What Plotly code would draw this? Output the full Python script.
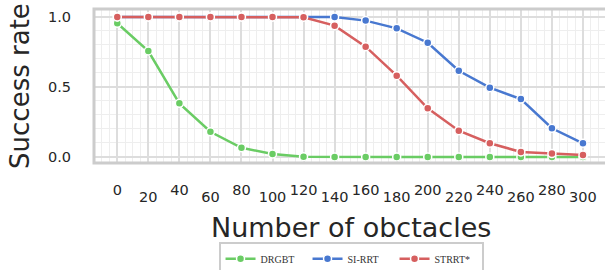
import plotly.graph_objects as go

obstacles = [0, 20, 40, 60, 80, 100, 120, 140, 160, 180, 200, 220, 240, 260, 280, 300]
drgbt = [0.955, 0.757, 0.383, 0.18, 0.066, 0.021, 0.002, 0.0, 0.0, 0.0, 0.0, 0.0, 0.0, 0.0, 0.0, 0.0]
si_rrt = [1.0, 1.0, 1.0, 1.0, 1.0, 1.0, 1.0, 0.999, 0.974, 0.919, 0.816, 0.616, 0.495, 0.414, 0.205, 0.098]
strrt = [1.0, 1.0, 1.0, 1.0, 1.0, 1.0, 0.998, 0.938, 0.788, 0.581, 0.348, 0.188, 0.098, 0.036, 0.024, 0.014]

series_names = ["DRGBT", "SI-RRT", "STRRT*"]
series_values = [drgbt, si_rrt, strrt]
series_colors = ["#6acc64", "#4878d0", "#d65f5f"]

upper_ticks = [v for i, v in enumerate(obstacles) if i % 2 == 0]
lower_ticks = [v for i, v in enumerate(obstacles) if i % 2 == 1]
y_ticks = [0.0, 0.5, 1.0]
y_ticktext = ["0.0", "0.5", "1.0"]

TXT = "#262626"
fig = go.Figure()
for name, vals, col in zip(series_names, series_values, series_colors):
    fig.add_trace(go.Scatter(
        x=obstacles, y=vals, name=name, mode="lines+markers",
        line=dict(color=col, width=2.5),
        marker=dict(color=col, size=8, line=dict(color="white", width=1.5)),
    ))

xr = [-15, 314.2]
fig.update_layout(
    width=605, height=270,
    margin=dict(l=94, r=0, t=9, b=107, autoexpand=False),
    plot_bgcolor="white", paper_bgcolor="white",
    font=dict(family="DejaVu Sans", color=TXT, size=14),
    xaxis=dict(
        range=xr, tickmode="array", tickvals=obstacles,
        ticktext=[str(v) if i % 2 == 0 else "" for i, v in enumerate(obstacles)],
        showgrid=True, gridcolor="#dddddd", gridwidth=2,
        minor=dict(tickmode="linear", tick0=0, dtick=5, showgrid=True, gridcolor="#eeeeee", gridwidth=1),
        zeroline=False, showline=False, ticks="", ticklabelstandoff=16, automargin=False,
        tickfont=dict(size=14.5, color=TXT),
    ),
    xaxis2=dict(
        range=xr, overlaying="x", anchor="y", side="bottom",
        tickmode="array", tickvals=lower_ticks, ticktext=[str(v) for v in lower_ticks],
        showgrid=False, zeroline=False, showline=False, ticks="", ticklabelstandoff=23, automargin=False,
        tickfont=dict(size=14.5, color=TXT),
    ),
    yaxis=dict(
        range=[-0.043, 1.057], tickmode="array", tickvals=y_ticks, ticktext=y_ticktext,
        showgrid=True, gridcolor="#dddddd", gridwidth=2,
        minor=dict(tickmode="linear", tick0=0, dtick=0.1, showgrid=True, gridcolor="#eeeeee", gridwidth=1),
        zeroline=False, showline=False, ticks="", ticklabelstandoff=22, automargin=False,
        tickfont=dict(size=14.5, color=TXT),
    ),
    showlegend=True,
    legend=dict(
        orientation="h", x=0.503, xanchor="center", y=-0.515, yanchor="top",
        font=dict(family="Liberation Serif", size=10, color="#333333"),
        bordercolor="#cccccc", borderwidth=2, bgcolor="white",
        entrywidth=42, entrywidthmode="pixels",
    ),
    shapes=[dict(type="rect", xref="paper", yref="paper", x0=0, x1=1.02, y0=0, y1=1,
                 line=dict(color="#cccccc", width=3), layer="above")],
    annotations=[
        dict(text="Success rate", xref="paper", yref="paper", x=-0.145, y=0.5,
             xanchor="center", yanchor="middle", textangle=-90, showarrow=False,
             font=dict(size=26, color=TXT, family="DejaVu Sans")),
        dict(text="Number of obctacles", xref="paper", yref="paper", x=0.503, y=-0.42,
             xanchor="center", yanchor="middle", showarrow=False,
             font=dict(size=27, color=TXT, family="DejaVu Sans")),
    ],
)
# invisible trace to activate the second (staggered-label) x axis
fig.add_trace(go.Scatter(x=[obstacles[0]], y=[None], xaxis="x2", showlegend=False, hoverinfo="skip"))

fig.write_html("out.html", config={"displayModeBar": False},
               post_script="document.body.style.margin='0';document.body.style.overflow='hidden';")
